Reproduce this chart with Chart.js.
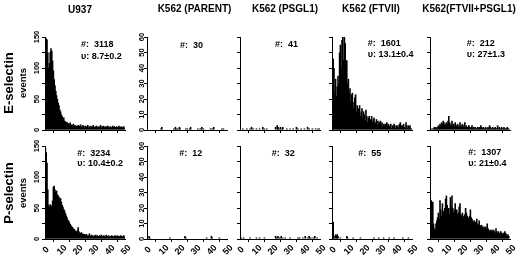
<!DOCTYPE html>
<html><head><meta charset="utf-8">
<script src="https://cdn.jsdelivr.net/npm/chart.js@4/dist/chart.umd.min.js"></script>
<style>
html,body{margin:0;padding:0;background:#fff;width:520px;height:262px;overflow:hidden;}
#wrap{position:relative;width:520px;height:262px;}
.t{position:absolute;font-family:"Liberation Sans",Arial,sans-serif;font-weight:bold;color:#000;white-space:pre;line-height:1;}
canvas{position:absolute;}
</style></head><body><div id="wrap"></div>
<script>
// ---------- data ----------
const binWidth = 0.5;               // events bin width (x units)
const xTickLabels = ['0','10','20','30','40','50'];
const u937YLabels = [0, 50, 100, 150];
const k562YLabels = [0, 10, 20, 30, 40, 50, 60];
const columnTitles = ['U937', 'K562 (PARENT)', 'K562 (PSGL1)', 'K562 (FTVII)', 'K562(FTVII+PSGL1)'];
const rowTitles = ['E-selectin', 'P-selectin'];

const u937E = [140,148,146,125,100,108,126,132,128,112,
 96,82,72,63,56,50,44,40,33,30,
 25,22,19,20,15,14,12,13,10,11,
 9,12,8,9,7,10,6,8,5,7,
 6,8,5,7,9,6,5,8,6,4,
 7,5,6,8,4,6,5,7,4,6,
 8,5,4,6,7,5,4,6,5,8,
 4,6,5,7,4,5,6,4,7,5,
 4,6,5,4,7,5,6,4,5,6,
 4,5,7,4,5,6,4,5,6,3];
const u937P = [147,140,123,80,55,52,56,50,54,62,
 84,86,80,76,78,72,70,68,64,66,
 60,55,52,48,46,42,38,35,31,30,
 27,24,22,20,19,17,16,14,13,12,
 14,19,12,10,9,11,8,9,7,8,
 6,8,7,5,6,9,5,6,7,5,
 4,6,5,7,4,6,5,4,6,5,
 7,4,5,6,4,5,7,4,5,6,
 4,5,4,6,5,4,5,6,4,5,
 6,4,5,4,6,5,4,5,6,4];
const ftviiE = [30,46,40,24,33,22,28,35,30,50,
 55,40,58,60,45,60,56,42,45,30,
 33,24,27,18,23,24,14,18,21,23,
 12,16,10,14,16,9,12,14,8,12,
 10,6,13,9,5,8,9,4,7,9,
 5,7,8,4,5,7,3,6,4,5,
 6,3,5,2,4,3,4,2,5,3,
 4,2,3,4,1,3,2,4,3,1,
 3,2,3,1,4,5,3,1,3,4,
 2,1,5,3,1,3,2,3,1,1];
const ftviiPsglE = [0,1,0,1,1,2,1,2,1,2,
 3,2,4,3,5,4,6,5,3,4,
 5,4,6,9,5,3,4,6,3,4,
 3,5,2,3,4,2,3,5,2,3,
 4,2,3,5,2,3,2,1,3,2,
 1,2,3,1,2,1,2,1,1,2,
 1,2,1,3,2,1,2,1,1,2,
 1,1,2,1,3,2,1,1,2,1,
 1,2,1,1,3,1,2,1,1,2,
 1,1,2,1,1,1,2,1,1,0];
const ftviiPsglP = [8,25,12,24,10,7,6,10,12,14,
 17,13,25,19,15,23,18,16,20,26,
 28,22,18,20,16,27,21,28,20,17,
 19,23,18,19,16,17,21,23,16,15,
 17,14,15,16,20,17,15,14,13,15,
 19,14,13,12,11,12,11,10,13,10,
 9,12,9,8,9,8,7,8,7,8,
 7,10,7,6,5,6,5,6,5,6,
 5,4,7,5,4,5,4,3,5,4,
 3,4,3,5,4,3,2,3,2,0];
// sparse histograms: bin index -> count
const parentEBins = [17,18,33,35,36,38,40,41,48,50,53,54,63,66,68,70,79,81,83,93,95];
const parentECounts = [1,2,1,2,1,1,2,1,1,1,1,2,1,1,2,1,1,1,2,1,1];
const psglEBins = [3,8,12,14,16,20,24,28,30,33,44,46,47,48,50,52,53,58,62,66,70,72,76,80,84,86,90,94,97,99];
const psglECounts = [1,1,1,2,1,1,1,2,1,1,2,3,2,1,2,1,2,1,1,1,2,1,1,1,2,1,1,1,1,1];
const parentPBins = [2,3,28,47,48,74,80,81,90];
const parentPCounts = [2,1,1,2,1,1,2,1,1];
const psglPBins = [1,4,12,20,24,30,44,45,47,49,51,53,56,62,72,74,78,81,84,86,88,91,93,96];
const psglPCounts = [1,1,1,1,1,1,2,1,2,1,2,1,1,1,1,1,1,2,1,2,1,1,2,1];
const ftviiPBins = [0,1,2,4,5,6,7,10,18,19,26,35,52,58,64,71,77,88,95];
const ftviiPCounts = [12,11,2,3,2,3,2,1,2,1,1,1,1,1,1,1,1,1,1];

const eventCounts = [['3118','30','41','1601','212'], ['3234','12','32','55','1307']];
const velocities = [['8.7±0.2',null,null,'13.1±0.4','27±1.3'], ['10.4±0.2',null,null,null,'21±0.4']];

// ---------- layout ----------
const FONT = '"Liberation Sans", Arial, sans-serif';
Chart.defaults.font.family = FONT;
Chart.defaults.color = '#000';
const wrap = document.getElementById('wrap');
const colLeft = [45, 147, 240, 332, 430];
const rowTop = [37, 146];
const plotW = 80, plotH = 93;

function expand(bins, counts) {
  const a = new Array(100).fill(0);
  bins.forEach((b, i) => { a[b] = counts[i]; });
  return a;
}

const panels = [
  {values: u937E, col: 0, row: 0, yMax: 150, yStep: 25, yLabels: u937YLabels, yOff: 8.5},
  {values: expand(parentEBins, parentECounts), col: 1, row: 0, yMax: 60, yStep: 10, yLabels: k562YLabels, yOff: 5},
  {values: expand(psglEBins, psglECounts), col: 2, row: 0, yMax: 60, yStep: 10, yLabels: null},
  {values: ftviiE, col: 3, row: 0, yMax: 60, yStep: 10, yLabels: null},
  {values: ftviiPsglE, col: 4, row: 0, yMax: 60, yStep: 10, yLabels: null},
  {values: u937P, col: 0, row: 1, yMax: 150, yStep: 25, yLabels: u937YLabels, yOff: 8.5},
  {values: expand(parentPBins, parentPCounts), col: 1, row: 1, yMax: 60, yStep: 10, yLabels: k562YLabels, yOff: 5},
  {values: expand(psglPBins, psglPCounts), col: 2, row: 1, yMax: 60, yStep: 10, yLabels: null},
  {values: expand(ftviiPBins, ftviiPCounts), col: 3, row: 1, yMax: 60, yStep: 10, yLabels: null},
  {values: ftviiPsglP, col: 4, row: 1, yMax: 60, yStep: 10, yLabels: null}
];

function makePanel(p) {
  const cv = document.createElement('canvas');
  const W0 = 40 + plotW + 8, H0 = 12 + plotH + 30;
  cv.width = W0; cv.height = H0;
  cv.style.width = W0 + 'px'; cv.style.height = H0 + 'px';
  wrap.appendChild(cv);
  const data = p.values.map((v, i) => ({x: (i + 0.5) * binWidth, y: v}));
  const axisGrid = {display: true, drawOnChartArea: false, drawTicks: true, tickLength: 3, color: '#000', tickColor: '#000', lineWidth: 1};
  const labels = {
    id: 'axlab',
    afterDraw(c) {
      const ctx = c.ctx, ys = c.scales.y, xs = c.scales.x;
      ctx.save();
      ctx.fillStyle = '#000';
      ctx.textAlign = 'center';
      ctx.textBaseline = 'middle';
      if (p.yLabels) {
        ctx.font = 'bold 7.5px ' + FONT;
        p.yLabels.forEach(v => {
          const py = ys.getPixelForValue(v);
          ctx.save();
          ctx.translate(c.chartArea.left - p.yOff, py);
          ctx.rotate(-Math.PI / 2);
          ctx.fillText(String(v), 0, 0);
          ctx.restore();
        });
      }
      if (p.row === 1) {
        ctx.font = 'bold 9px ' + FONT;
        xTickLabels.forEach(t => {
          const px = xs.getPixelForValue(Number(t));
          ctx.save();
          ctx.translate(px + 1, c.chartArea.bottom + 11);
          ctx.rotate(-Math.PI / 4);
          ctx.fillText(t, 0, 0);
          ctx.restore();
        });
      }
      ctx.restore();
    }
  };
  const chart = new Chart(cv, {
    type: 'bar',
    data: {datasets: [{data, backgroundColor: '#000', borderWidth: 0, barPercentage: 2, categoryPercentage: 1}]},
    options: {
      responsive: false, maintainAspectRatio: false, animation: false, devicePixelRatio: 1,
      layout: {padding: {left: 0, right: 8, top: 12, bottom: 0}},
      plugins: {legend: {display: false}, tooltip: {enabled: false}},
      scales: {
        x: {
          type: 'linear', min: 0, max: 50, offset: false,
          afterFit(s) { s.height = 30; },
          grid: axisGrid,
          border: {display: true, color: '#000', width: 1},
          ticks: {display: false, stepSize: 10}
        },
        y: {
          min: 0, max: p.yMax,
          afterFit(s) { s.width = 40; },
          grid: axisGrid,
          border: {display: true, color: '#000', width: 1},
          ticks: {display: false, stepSize: p.yStep}
        }
      }
    },
    plugins: [labels]
  });
  const ca = chart.chartArea;
  const W = W0 + (plotW - (ca.right - ca.left));
  const H = H0 + (plotH - (ca.bottom - ca.top));
  chart.resize(W, H);
  const cb = chart.chartArea;
  cv.style.left = (colLeft[p.col] - cb.left) + 'px';
  cv.style.top = (rowTop[p.row] - cb.top) + 'px';
}
panels.forEach(makePanel);

// ---------- text ----------
function addText(txt, x, y, size, opts) {
  const d = document.createElement('div');
  d.className = 't';
  d.textContent = txt;
  d.style.fontSize = size + 'px';
  d.style.left = x + 'px';
  d.style.top = y + 'px';
  d.style.transform = (opts && opts.t) || 'translate(0,-50%)';
  wrap.appendChild(d);
  return d;
}
const titlePos = [[80, 10], [194.5, 8.5], [285, 8.5], [371, 8.5], [469, 8.5]];
columnTitles.forEach((t, i) => addText(t, titlePos[i][0], titlePos[i][1], 10, {t: 'translate(-50%,-50%)'}));

const rowLabelY = [83, 193];
rowTitles.forEach((t, r) => {
  addText(t, 7.5, rowLabelY[r], 13, {t: 'translate(-50%,-50%) rotate(-90deg)'});
  addText('events', 23, rowLabelY[r], 9.5, {t: 'translate(-50%,-50%) rotate(-90deg)'});
});

const annPos = [
  [[81, 44, 55.5], [180, 44.5], [275, 44], [367.7, 42.5, 53.5], [466.7, 42.5, 53.5]],
  [[77.3, 153, 163], [179.3, 153], [271.7, 153], [358.3, 153], [468.3, 152, 163]]
];
for (let r = 0; r < 2; r++) {
  for (let c = 0; c < 5; c++) {
    const a = annPos[r][c];
    addText('#:  ' + eventCounts[r][c], a[0], a[1], 9);
    if (velocities[r][c]) addText('\u03C5: ' + velocities[r][c], a[0], a[2], 9);
  }
}
</script>
</body></html>
